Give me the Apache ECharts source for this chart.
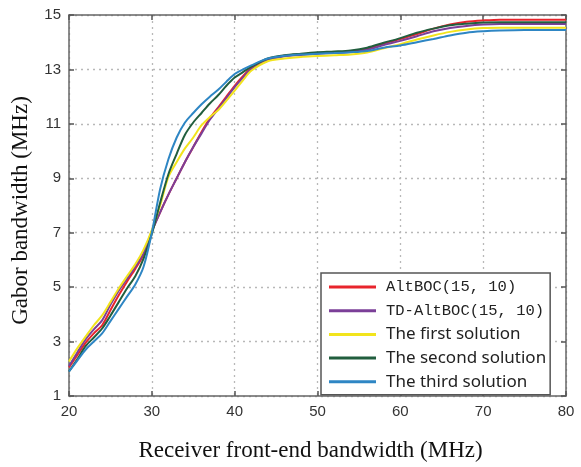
<!DOCTYPE html>
<html>
<head>
<meta charset="utf-8">
<script src="https://cdn.jsdelivr.net/npm/echarts@6/dist/echarts.min.js"></script>
<style>
	html, body { margin: 0; padding: 0; background: #fff; }
	#chart { width: 581px; height: 467px; }
</style>
</head>
<body>
<div id="chart"></div>
<script>
	// receiver front-end bandwidth (MHz)
	var xs = [20,21,22,23,24,25,26,27,28,29,30,31,32,33,34,35,36,37,38,39,40,41,42,44,46,48,50,52,54,56,58,60,62,64,66,68,70,72,75,80];
	var names = ["AltBOC(15, 10)", "TD-AltBOC(15, 10)", "The first solution", "The second solution", "The third solution"];
	var colors = ["#e8242c", "#7b3f98", "#f2e41c", "#215e3e", "#2e86c4"];
	var yTicks = [1, 3, 5, 7, 9, 11, 13, 15];
	var xTicks = [20, 30, 40, 50, 60, 70, 80];

	var altboc = [2.05,2.5,2.95,3.3,3.6,4.15,4.7,5.2,5.67,6.2,7.05,7.75,8.4,9.0,9.6,10.15,10.7,11.2,11.6,12.0,12.4,12.75,13.05,13.35,13.5,13.55,13.6,13.62,13.66,13.76,13.95,14.12,14.3,14.5,14.65,14.75,14.8,14.83,14.83,14.83];
	var tdAltboc = [2.1,2.6,3.08,3.45,3.78,4.35,4.87,5.3,5.75,6.25,7.05,7.75,8.4,9.0,9.6,10.15,10.65,11.15,11.55,11.95,12.35,12.7,13.0,13.33,13.48,13.53,13.58,13.6,13.64,13.72,13.9,14.05,14.22,14.4,14.52,14.6,14.65,14.67,14.67,14.67];
	var firstSol = [2.27,2.75,3.18,3.6,3.96,4.45,4.95,5.4,5.84,6.38,7.1,8.0,9.05,9.6,10.1,10.5,10.95,11.25,11.5,11.85,12.22,12.6,12.95,13.3,13.4,13.46,13.49,13.52,13.55,13.62,13.78,13.93,14.1,14.25,14.38,14.47,14.52,14.53,14.53,14.53];
	var secondSol = [1.9,2.35,2.83,3.15,3.48,3.95,4.45,4.95,5.4,6.05,6.95,8.1,9.15,9.9,10.6,11.05,11.4,11.75,12.05,12.4,12.7,12.9,13.1,13.4,13.52,13.58,13.63,13.66,13.7,13.8,13.98,14.15,14.35,14.5,14.62,14.68,14.72,14.73,14.73,14.73];
	var thirdSol = [1.9,2.3,2.7,3.0,3.3,3.75,4.2,4.65,5.1,5.75,7.0,8.6,9.7,10.5,11.05,11.4,11.72,12.0,12.25,12.55,12.83,13.0,13.15,13.4,13.5,13.55,13.58,13.6,13.63,13.68,13.8,13.88,14.0,14.12,14.25,14.35,14.4,14.43,14.45,14.45];

	var allData = [altboc, tdAltboc, firstSol, secondSol, thirdSol];

	function pairs(ys) {
		return xs.map(function (x, i) { return [x, ys[i]]; });
	}

	var chart = echarts.init(document.getElementById("chart"));

	var series = allData.map(function (ys, i) {
		return {
			name: names[i],
			type: "line",
			data: pairs(ys),
			showSymbol: false,
			smooth: 0.3,
			lineStyle: { color: colors[i], width: 2 },
			itemStyle: { color: colors[i] },
			xAxisIndex: 0,
			yAxisIndex: 0
		};
	});

	var gridLine = { show: true, lineStyle: { color: "#b8b8b8", type: [2, 4], width: 1.3 } };
	var frame = { show: true, lineStyle: { color: "#666", width: 1.5 } };
	var tickIn = { show: true, inside: true, length: 5, lineStyle: { color: "#555", width: 1.5 } };

	var option = {
		backgroundColor: "#fff",
		animation: false,
		grid: { left: 69, right: 15, top: 15, bottom: 65 },
		legend: {
			orient: "vertical",
			left: 321,
			top: 273,
			data: names.map(function (n) { return { name: n, icon: "rect" }; }),
			itemWidth: 47,
			itemHeight: 3,
			itemGap: 3.7,
			padding: [4, 4, 3, 8],
			borderColor: "#555",
			borderWidth: 1.5,
			backgroundColor: "#fff",
			textStyle: {
				color: "#222",
				fontSize: 17,
				lineHeight: 20,
				padding: [0, 0, 0, 5],
				fontFamily: "Noto Sans"
			},
			formatter: function (n) {
				if (n.indexOf("AltBOC") >= 0) return "{m|" + n + "}";
				return n;
			},
			selectedMode: false
		},
		xAxis: [{
			type: "value",
			min: 20, max: 80, interval: 10,
			name: "Receiver front-end bandwidth (MHz)",
			nameLocation: "middle",
			nameGap: 43,
			nameTextStyle: { fontFamily: "Liberation Serif", fontSize: 23, color: "#111", padding: [0, 14, 0, 0] },
			axisLine: frame,
			axisTick: tickIn,
			axisLabel: { fontSize: 15, color: "#333", margin: 8, fontFamily: "Liberation Sans",
				formatter: function (v) { return xTicks.indexOf(v) >= 0 ? String(v) : ""; } },
			splitLine: gridLine
		}, {
			type: "value",
			position: "top",
			min: 20, max: 80, interval: 10,
			axisLine: frame,
			axisTick: tickIn,
			axisLabel: { show: false },
			splitLine: { show: false }
		}],
		yAxis: [{
			type: "value",
			min: 1, max: 15, interval: 2,
			name: "Gabor bandwidth (MHz)",
			nameLocation: "middle",
			nameGap: 37,
			nameTextStyle: { fontFamily: "Liberation Serif", fontSize: 23, color: "#111", padding: [0, 10, 0, 0] },
			axisLine: frame,
			axisTick: tickIn,
			axisLabel: { fontSize: 15, color: "#333", margin: 8, fontFamily: "Liberation Sans",
				formatter: function (v) { return yTicks.indexOf(v) >= 0 ? String(v) : ""; } },
			splitLine: gridLine
		}, {
			type: "value",
			position: "right",
			min: 1, max: 15, interval: 2,
			axisLine: frame,
			axisTick: tickIn,
			axisLabel: { show: false },
			splitLine: { show: false }
		}],
		series: series
	};

	option.legend.textStyle.rich = {
		m: { fontFamily: "Liberation Mono", fontSize: 15.5, color: "#222", lineHeight: 20 }
	};

	chart.setOption(option);
</script>
</body>
</html>
